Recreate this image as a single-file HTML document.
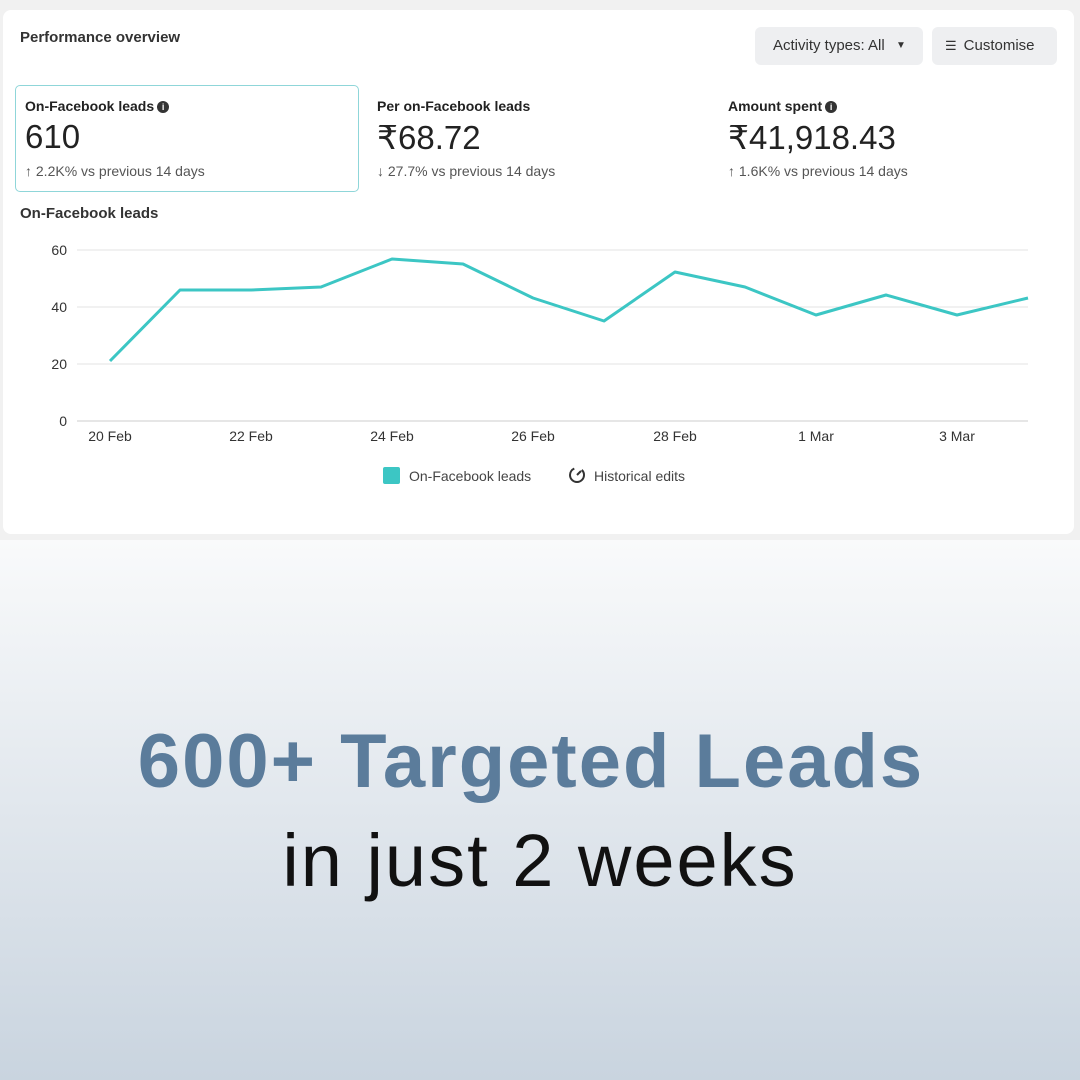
<!DOCTYPE html>
<html><head><meta charset="utf-8"><style>
body{margin:0;width:1080px;height:1080px;position:relative;font-family:"Liberation Sans",sans-serif;background:linear-gradient(#f9fafb 540px,#c9d4df 1080px);overflow:hidden}
.top{position:absolute;left:0;top:0;width:1080px;height:540px;background:#f1f1f1}
.card{position:absolute;left:3px;top:10px;width:1071px;height:524px;background:#fff;border-radius:8px}
.t{position:absolute;color:#1c1e21;white-space:nowrap}
.btn{position:absolute;top:27px;height:38px;background:#eeeff1;border-radius:6px;font-size:15px;color:#333;line-height:38px;white-space:nowrap}
.kpi{position:absolute;top:85px;height:105px;white-space:nowrap}
.kpi div{white-space:nowrap}
.lab{font-size:14px;font-weight:bold;color:#222;position:absolute;top:13px}
.val{font-size:33px;color:#222;position:absolute;top:33px}
.sub{font-size:14px;color:#555;position:absolute;top:78px}
.i{display:inline-block;width:12px;height:12px;border-radius:50%;background:#333;color:#fff;font-size:9px;text-align:center;line-height:12px;vertical-align:1px;margin-left:3px}
</style></head><body>
<div class="top"></div>
<div class="card"></div>
<div class="t" style="left:20px;top:29px;font-size:15px;font-weight:bold;color:#333">Performance overview</div>
<div class="btn" style="left:755px;width:168px"><span style="margin-left:18px">Activity types: All</span><span style="position:absolute;left:141px;top:0;font-size:10px">▼</span></div>
<div class="btn" style="left:932px;width:125px"><span style="margin-left:13px;font-size:13px">☰</span><span style="margin-left:7px">Customise</span></div>
<div class="kpi" style="left:15px;width:342px;border:1px solid #8fd6d9;border-radius:5px"></div>
<div class="kpi" style="left:25px"><div class="lab">On-Facebook leads<span class="i">i</span></div><div class="val">610</div><div class="sub">↑ 2.2K% vs previous 14 days</div></div>
<div class="kpi" style="left:377px"><div class="lab">Per on-Facebook leads</div><div class="val">₹68.72</div><div class="sub">↓ 27.7% vs previous 14 days</div></div>
<div class="kpi" style="left:728px"><div class="lab">Amount spent<span class="i">i</span></div><div class="val">₹41,918.43</div><div class="sub">↑ 1.6K% vs previous 14 days</div></div>
<div class="t" style="left:20px;top:205px;font-size:15px;font-weight:bold;color:#333">On-Facebook leads</div>
<svg width="1080" height="540" style="position:absolute;left:0;top:0">
<g stroke="#e3e3e3" stroke-width="1"><line x1="77" x2="1028" y1="250" y2="250"/><line x1="77" x2="1028" y1="307" y2="307"/><line x1="77" x2="1028" y1="364" y2="364"/><line x1="77" x2="1028" y1="421" y2="421" stroke="#ccc"/></g>
<g font-size="14" fill="#333" text-anchor="end"><text x="67" y="255">60</text><text x="67" y="312">40</text><text x="67" y="369">20</text><text x="67" y="426">0</text></g>
<g font-size="14" fill="#333" text-anchor="middle"><text x="110" y="441">20 Feb</text><text x="251" y="441">22 Feb</text><text x="392" y="441">24 Feb</text><text x="533" y="441">26 Feb</text><text x="675" y="441">28 Feb</text><text x="816" y="441">1 Mar</text><text x="957" y="441">3 Mar</text></g>
<polyline fill="none" stroke="#3cc6c4" stroke-width="3" stroke-linejoin="round" points="110,361 180,290 251,290 321,287 392,259 463,264 533,298 604,321 675,272 745,287 816,315 886,295 957,315 1028,298"/>
<rect x="383" y="467" width="17" height="17" rx="2" fill="#3cc6c4"/>
<text x="409" y="481" font-size="14" fill="#444">On-Facebook leads</text>
<circle cx="577" cy="475" r="7" fill="none" stroke="#333" stroke-width="2" stroke-dasharray="30 8"/>
<line x1="577" y1="475" x2="581" y2="471" stroke="#333" stroke-width="2"/>
<text x="594" y="481" font-size="14" fill="#444">Historical edits</text>
</svg>
<div class="t" style="left:0;width:1062px;text-align:center;top:718px;font-size:76px;font-weight:bold;color:#5b7c9b;letter-spacing:2px">600+ Targeted Leads</div>
<div class="t" style="left:0;width:1080px;text-align:center;top:818px;font-size:74px;color:#111;letter-spacing:2px">in just 2 weeks</div>
</body></html>
